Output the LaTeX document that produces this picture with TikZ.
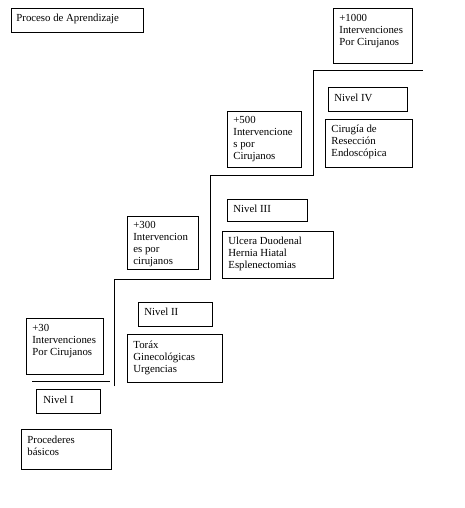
\documentclass[tikz,border=0pt]{standalone}
\usepackage{fontspec}
\setmainfont{Liberation Serif}
\usepackage{tikz}
\usetikzlibrary{positioning}

\tikzset{lbl/.style={anchor=north west,inner sep=0pt,align=left,font=\fontsize{10.8}{12}\selectfont}}

\begin{document}
\begin{tikzpicture}[x=1pt,y=-1pt,line width=0.8pt]
    \useasboundingbox (0,0) rectangle (465,508);

    % title
    \draw (11,8) rectangle (143,32);
    \node[lbl] (titulo) at (16,14) {Proceso de Aprendizaje};

    % staircase
    \draw (114,386) -- (114,279) -- (210,279) -- (210,175) -- (313,175) -- (313,70) -- (423,70);
    \draw (32,381) -- (110,381);

    % nivel I
    \draw (26,318) rectangle (103,374);
    \node[lbl] (int30) at (32,324) {+30\\Intervenciones\\Por Cirujanos};
    \draw (36,389) rectangle (100,413);
    \node[lbl] (niv1) at (43,396) {Nivel I};
    \draw (21,429) rectangle (111,469);
    \node[lbl] (proc) at (27,436) {Procederes\\básicos};

    % nivel II
    \draw (127,216) rectangle (198,269);
    \node[lbl] (int300) at (133,221) {+300\\Intervencion\\es por\\cirujanos};
    \draw (138,302) rectangle (212,326);
    \node[lbl] (niv2) at (144,308) {Nivel II};
    \draw (127,334) rectangle (222,382);
    \node[lbl] (torax) at (133,341) {Toráx\\Ginecológicas\\Urgencias};

    % nivel III
    \draw (227,111) rectangle (301,167);
    \node[lbl] (int500) at (233,116) {+500\\Intervencione\\s por\\Cirujanos};
    \draw (227,199) rectangle (307,221);
    \node[lbl] (niv3) at (233,205) {Nivel III};
    \draw (222,231) rectangle (333,278);
    \node[lbl] (ulcera) at (228,237) {Ulcera Duodenal\\Hernia Hiatal\\Esplenectomias};

    % nivel IV
    \draw (333,8) rectangle (412,63);
    \node[lbl] (int1000) at (339,14) {+1000\\Intervenciones\\Por Cirujanos};
    \draw (328,87) rectangle (407,111);
    \node[lbl] (niv4) at (334,94) {Nivel IV};
    \draw (325,119) rectangle (412,167);
    \node[lbl] (cirugia) at (331,125) {Cirugía de\\Resección\\Endoscópica};
\end{tikzpicture}
\end{document}
